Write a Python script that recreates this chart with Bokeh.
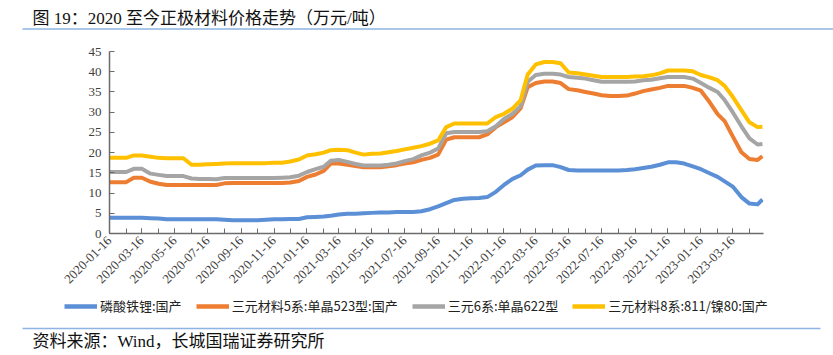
import math
import pandas as pd
from bokeh.plotting import figure
from bokeh.models import (Range1d, FixedTicker, DatetimeTickFormatter, Legend,
                          LegendItem, ColumnDataSource, Label)
from bokeh.embed import file_html
from bokeh.resources import INLINE

title_text = "图 19：2020 至今正极材料价格走势（万元/吨）"
source_text = "资料来源：Wind，长城国瑞证券研究所"
series_names = ["磷酸铁锂:国产", "三元材料5系:单晶523型:国产", "三元6系:单晶622型", "三元材料8系:811/镍80:国产"]
series_colors = ["#5B8FD6", "#ED7D31", "#A5A5A5", "#FFC000"]

x_tick_labels = ["2020-01-16", "2020-03-16", "2020-05-16", "2020-07-16", "2020-09-16", "2020-11-16",
                 "2021-01-16", "2021-03-16", "2021-05-16", "2021-07-16", "2021-09-16", "2021-11-16",
                 "2022-01-16", "2022-03-16", "2022-05-16", "2022-07-16", "2022-09-16", "2022-11-16",
                 "2023-01-16", "2023-03-16"]
y_ticks = [0, 5, 10, 15, 20, 25, 30, 35, 40, 45]

# semi-monthly observation dates (1st and 16th of each month)
first_date = "2020-01-16"
last_date = "2023-05-10"

lfp = [3.9, 3.9, 3.9, 3.9, 3.9,
       3.8, 3.7, 3.5, 3.5, 3.5,
       3.5, 3.5, 3.5, 3.5, 3.4,
       3.3, 3.3, 3.3, 3.3, 3.4,
       3.5, 3.5, 3.6, 3.6, 4.0,
       4.1, 4.2, 4.4, 4.7, 4.9,
       4.9, 5.0, 5.1, 5.2, 5.2,
       5.3, 5.3, 5.3, 5.5, 6.0,
       6.7, 7.5, 8.3, 8.6, 8.7,
       8.8, 9.0, 10.3, 12.0, 13.5,
       14.4, 15.8, 16.8, 16.9, 16.9,
       16.4, 15.7, 15.6, 15.6, 15.6,
       15.6, 15.6, 15.6, 15.7, 15.9,
       16.2, 16.5, 17.0, 17.6, 17.6,
       17.3, 16.6, 15.9, 14.9, 14.0,
       12.9, 11.6, 9.0, 7.4, 7.2,
       8.4]

ncm523 = [12.7, 12.7, 12.7, 13.8, 13.8,
          12.8, 12.3, 12.0, 12.0, 12.0,
          12.0, 12.0, 12.0, 12.0, 12.4,
          12.5, 12.5, 12.5, 12.5, 12.5,
          12.5, 12.5, 12.6, 13.0, 14.0,
          14.6, 15.5, 17.3, 17.3, 17.0,
          16.7, 16.4, 16.4, 16.4, 16.6,
          16.9, 17.3, 17.6, 18.2, 18.7,
          19.5, 23.2, 23.8, 23.8, 23.8,
          23.8, 24.5, 26.3, 27.5, 28.8,
          31.0, 36.2, 37.2, 37.6, 37.6,
          37.2, 35.7, 35.4, 35.0, 34.6,
          34.2, 34.0, 34.0, 34.1, 34.6,
          35.2, 35.6, 36.0, 36.5, 36.5,
          36.5, 36.0, 35.3, 32.5, 29.5,
          27.8, 24.0, 20.1, 18.4, 18.2,
          19.1]

ncm622 = [15.2, 15.2, 15.2, 16.0, 16.0,
          14.8, 14.5, 14.2, 14.2, 14.2,
          13.6, 13.5, 13.5, 13.4, 13.7,
          13.7, 13.7, 13.7, 13.7, 13.7,
          13.7, 13.8, 13.9, 14.3, 15.2,
          15.9, 16.5, 18.0, 18.2, 17.7,
          17.2, 16.8, 16.8, 16.8, 17.0,
          17.3, 17.9, 18.4, 19.3, 20.0,
          21.0, 24.8, 25.1, 25.1, 25.1,
          25.1, 25.3, 26.5, 28.3, 29.6,
          31.5, 37.5, 39.2, 39.5, 39.5,
          39.3, 38.7, 38.5, 38.3, 37.9,
          37.5, 37.5, 37.5, 37.5, 37.6,
          37.9, 38.0, 38.4, 38.7, 38.7,
          38.7, 38.3, 37.2, 36.0, 35.0,
          33.0, 30.0, 26.5, 23.5, 22.0,
          22.1]

ncm811 = [18.7, 18.7, 18.7, 19.3, 19.3,
          19.0, 18.7, 18.6, 18.6, 18.6,
          17.0, 17.0, 17.1, 17.2, 17.3,
          17.4, 17.4, 17.4, 17.4, 17.4,
          17.5, 17.5, 17.8, 18.3, 19.3,
          19.6, 20.0, 20.6, 20.7, 20.6,
          20.0, 19.5, 19.7, 19.8, 20.1,
          20.4, 20.8, 21.2, 21.6, 22.2,
          23.0, 26.3, 27.2, 27.2, 27.2,
          27.2, 27.2, 28.8, 29.6, 30.9,
          33.0, 39.3, 41.8, 42.4, 42.4,
          42.1, 39.8, 39.6, 39.3, 39.0,
          38.7, 38.7, 38.7, 38.7, 38.8,
          38.9, 39.1, 39.6, 40.3, 40.3,
          40.3, 40.1, 39.2, 38.6, 37.9,
          36.5, 33.8, 30.5, 27.5, 26.3,
          26.4]

# build the date axis: 16th of Jan 2020, then 1st/16th of each month, then last date
starts = list(pd.date_range("2020-02-01", "2023-05-01", freq="MS"))
mids = list(pd.date_range("2020-02-16", "2023-04-16", freq=pd.DateOffset(months=1)))
dates = [pd.Timestamp(first_date)] + sorted(starts + mids) + [pd.Timestamp(last_date)]


def ms(d):
    return pd.Timestamp(d).value / 1e6


major_ticks = [ms(s) for s in x_tick_labels]
minor_ticks = [ms(d) for d in pd.date_range(x_tick_labels[0], "2023-04-16", freq=pd.DateOffset(months=1))]

W = 833
TEXT_FONT = "Liberation Serif, Noto Sans CJK SC"
RULE = "#8DB4E2"

src = ColumnDataSource(dict(date=dates, lfp=lfp, ncm523=ncm523, ncm622=ncm622, ncm811=ncm811))
cols = ["lfp", "ncm523", "ncm622", "ncm811"]


def blank_fig(h):
    f = figure(width=W, height=h, output_backend="svg", toolbar_location=None,
               x_range=Range1d(0, W), y_range=Range1d(0, h),
               x_axis_location=None, y_axis_location=None,
               min_border=0, min_border_left=0, min_border_right=0,
               min_border_top=0, min_border_bottom=0)
    f.outline_line_color = None
    f.xgrid.visible = False
    f.ygrid.visible = False
    f.background_fill_color = "white"
    f.border_fill_color = "white"
    return f


# ---- top strip: title and rule (page y 0..32)
TOP_H = 32
top = blank_fig(TOP_H)
top.add_layout(Label(x=32, y=TOP_H - 18, text=title_text, text_font=TEXT_FONT,
                     text_font_size="17px", text_color="#111111",
                     text_baseline="middle", text_align="left"))
top.segment(x0=[22], y0=[TOP_H - 28.5], x1=[W], y1=[TOP_H - 28.5], line_color=RULE, line_width=1.5)

# ---- main chart (page y 32..295); frame from x 109 to 763, y 51 to 233
MAIN_H = 263
p = figure(width=W, height=MAIN_H, output_backend="svg", toolbar_location=None,
           x_axis_type="datetime",
           x_range=Range1d(ms(first_date), ms("2023-05-12")),
           y_range=Range1d(0, 45),
           min_border_left=109, min_border_right=70, min_border_top=19, min_border_bottom=62)
p.outline_line_color = None
p.xgrid.visible = False
p.ygrid.visible = False
p.background_fill_color = "white"
p.border_fill_color = "white"

axis_color = "#6B6B6B"
label_font = "Liberation Serif"

xa = p.xaxis[0]
xa.ticker = FixedTicker(ticks=major_ticks, minor_ticks=minor_ticks)
fmt = "%Y-%m-%d"
xa.formatter = DatetimeTickFormatter(milliseconds=fmt, seconds=fmt, minsec=fmt, minutes=fmt,
                                     hourmin=fmt, hours=fmt, days=fmt, months=fmt, years=fmt)
xa.major_label_orientation = math.pi / 4
xa.major_label_text_font = label_font
xa.major_label_text_font_size = "13px"
xa.major_label_text_color = "#404040"
xa.major_label_standoff = 5
xa.axis_line_color = axis_color
xa.axis_line_width = 1.5
xa.major_tick_in = 5
xa.major_tick_out = 0
xa.minor_tick_in = 5
xa.minor_tick_out = 0
xa.major_tick_line_color = axis_color
xa.minor_tick_line_color = axis_color

ya = p.yaxis[0]
ya.ticker = FixedTicker(ticks=y_ticks)
ya.major_label_text_font = label_font
ya.major_label_text_font_size = "13px"
ya.major_label_text_color = "#404040"
ya.major_label_standoff = 8
ya.axis_line_color = axis_color
ya.axis_line_width = 1.5
ya.major_tick_in = 5
ya.major_tick_out = 0
ya.minor_tick_line_color = None
ya.major_tick_line_color = axis_color

for col, color in zip(cols, series_colors):
    p.line("date", col, source=src, line_color=color, line_width=4, line_join="round")

# ---- bottom strip: legend, rule, source (page y 295..355)
BOT_H = 60
bot = blank_fig(BOT_H)
# legend proxies share the data source; their dates fall far outside this strip's pixel range
leg_renderers = [bot.line("date", c, source=src, line_color=color, line_width=4.5)
                 for c, color in zip(cols, series_colors)]
items = [LegendItem(label=n, renderers=[r]) for n, r in zip(series_names, leg_renderers)]
legend = Legend(items=items, location=(64, BOT_H - 20), orientation="horizontal",
                border_line_alpha=0, background_fill_alpha=0, padding=0, margin=0,
                spacing=14, glyph_width=33, glyph_height=18, label_standoff=3,
                label_text_font="Noto Sans CJK SC", label_text_font_size="13px",
                label_text_color="#222222", label_height=18)
bot.add_layout(legend)
bot.segment(x0=[22], y0=[BOT_H - 33], x1=[820], y1=[BOT_H - 33], line_color=RULE, line_width=1.5)
bot.add_layout(Label(x=32, y=BOT_H - 46, text=source_text, text_font=TEXT_FONT,
                     text_font_size="17px", text_color="#111111",
                     text_baseline="middle", text_align="left"))

open("out.html", "w").write(file_html([top, p, bot], INLINE))
